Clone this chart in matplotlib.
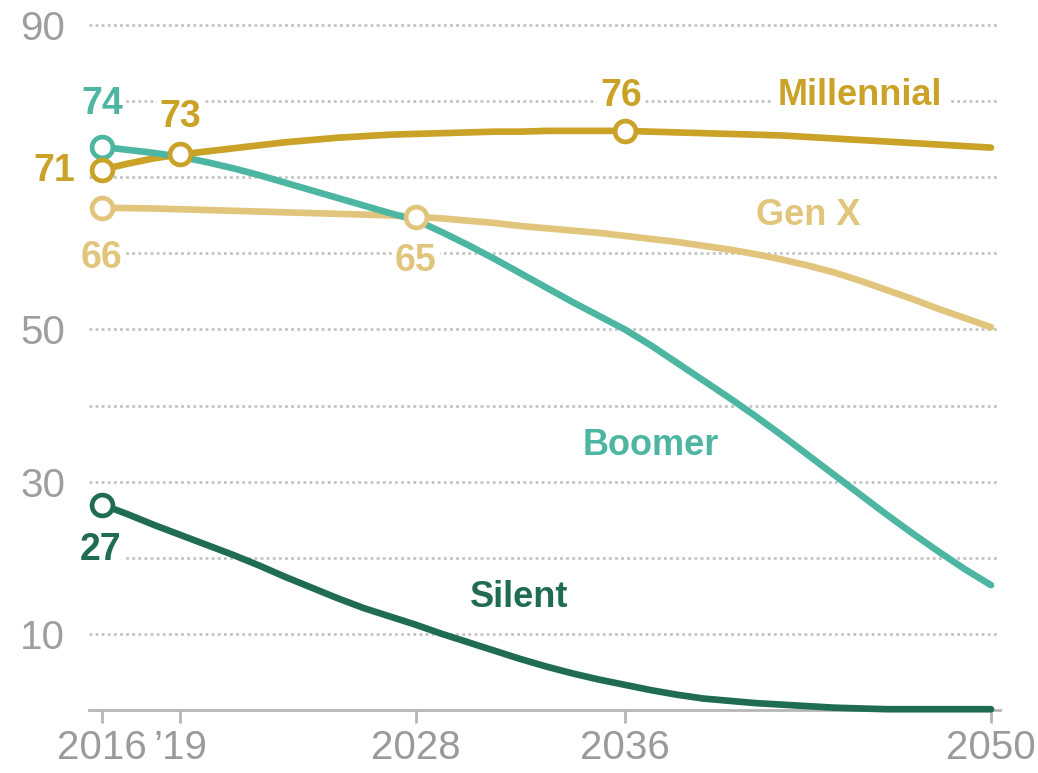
import matplotlib
matplotlib.use("Agg")
import matplotlib.pyplot as plt

# ---------------- data ----------------
years = list(range(2016, 2051))

millennial = [71.0, 71.8, 72.5, 73.0, 73.4, 73.8, 74.2, 74.6, 74.9, 75.2,
              75.4, 75.6, 75.7, 75.8, 75.9, 76.0, 76.0, 76.1, 76.1, 76.1,
              76.1, 76.0, 75.9, 75.8, 75.7, 75.6, 75.5, 75.3, 75.1, 74.9,
              74.7, 74.5, 74.3, 74.1, 73.9]

gen_x = [66.0, 65.95, 65.9, 65.8, 65.7, 65.6, 65.5, 65.4, 65.3, 65.2,
         65.1, 65.0, 64.8, 64.6, 64.3, 64.0, 63.6, 63.3, 63.0, 62.7,
         62.3, 61.9, 61.5, 61.0, 60.5, 59.9, 59.2, 58.4, 57.5, 56.4,
         55.2, 54.0, 52.7, 51.5, 50.3]

boomer = [74.0, 73.6, 73.2, 72.7, 72.0, 71.2, 70.3, 69.3, 68.3, 67.3,
          66.3, 65.3, 64.4, 62.8, 61.1, 59.3, 57.4, 55.5, 53.6, 51.8,
          50.0, 47.9, 45.6, 43.3, 41.0, 38.6, 36.1, 33.5, 30.9, 28.3,
          25.7, 23.2, 20.8, 18.5, 16.4]

silent = [27.0, 25.7, 24.3, 23.0, 21.7, 20.4, 19.0, 17.5, 16.1, 14.7,
          13.4, 12.3, 11.2, 10.0, 8.9, 7.8, 6.7, 5.7, 4.8, 4.0,
          3.3, 2.6, 2.0, 1.5, 1.2, 0.9, 0.7, 0.5, 0.3, 0.2,
          0.1, 0.1, 0.1, 0.1, 0.1]

series_names = ["Millennial", "Gen X", "Boomer", "Silent"]
x_tick_years = [2016, 2019, 2028, 2036, 2050]
x_tick_labels = ["2016", "\u201919", "2028", "2036", "2050"]
y_tick_values = [10, 30, 50, 90]
y_minor_values = [20, 40, 60, 70, 80]

# highlighted points: (series index, year)
highlights = [(2, 2016), (0, 2016), (0, 2019), (0, 2036),
              (1, 2016), (1, 2028), (3, 2016)]

# ---------------- style ----------------
colors = ["#C9A227", "#E2C57C", "#4DB6A2", "#1F6B53"]
label_offsets = {  # offsets in points for value labels
    (2, 2016): (0, 31),
    (0, 2016): (-34, -1),
    (0, 2019): (0, 27),
    (0, 2036): (-3, 25),
    (1, 2016): (0, -36),
    (1, 2028): (0, -32),
    (3, 2016): (-1, -33),
}
name_positions = [(2045.0, 80.8), (2043.0, 65.0), (2037.0, 34.8), (2031.95, 14.8)]

FONT = ["Liberation Sans", "DejaVu Sans"]
plt.rcParams["font.family"] = FONT

fig = plt.figure(figsize=(10.38, 7.73), dpi=100)
ax = fig.add_axes([0.0857, 0.0717, 0.8776, 0.9155])

data = [millennial, gen_x, boomer, silent]
for vals, c in zip(data, colors):
    ax.plot(years, vals, color=c, lw=4.8, solid_capstyle="round",
            solid_joinstyle="round", zorder=4)

for si, yr in highlights:
    v = data[si][years.index(yr)]
    ax.plot([yr], [v], marker="o", ms=15, mfc="white", mec=colors[si],
            mew=3.4, zorder=6)
    dx, dy = label_offsets[(si, yr)]
    ax.annotate(f"{round(v)}", xy=(yr, v), xytext=(dx, dy),
                textcoords="offset points", ha="center", va="center",
                fontsize=27, fontweight="bold", color=colors[si],
                annotation_clip=False, zorder=5,
                bbox=dict(boxstyle="square,pad=0.08", fc="white", ec="none"))

for name, (px, py), c in zip(series_names, name_positions, colors):
    ax.text(px, py, name, ha="center", va="center", fontsize=26,
            fontweight="bold", color=c, zorder=5,
            bbox=dict(boxstyle="square,pad=0.15", fc="white", ec="none"))

ax.set_xlim(2015.503, 2050.34)
ax.set_ylim(-1, 92)

ax.set_xticks(x_tick_years)
ax.set_xticklabels(x_tick_labels)
ax.set_yticks(y_tick_values)
ax.set_yticks(y_minor_values, minor=True)

for s in ["top", "right", "left"]:
    ax.spines[s].set_visible(False)
ax.spines["bottom"].set_position(("data", 0))
ax.spines["bottom"].set_color("#B5B5B5")
ax.spines["bottom"].set_linewidth(2.0)
ax.spines["bottom"].set_zorder(1)

ax.tick_params(axis="x", which="major", length=9, width=2.0, color="#B5B5B5",
               labelsize=29, labelcolor="#9A9A9A", pad=5)
ax.tick_params(axis="y", which="both", length=0, labelsize=29,
               labelcolor="#9E9E9E", pad=17)

ax.grid(axis="y", which="both", color="#C4C4C4", linestyle=(0, (1, 1.2)),
        linewidth=2.0, zorder=0)
ax.grid(axis="x", visible=False)
ax.set_axisbelow(True)

fig.savefig("out.png", dpi=100, facecolor="white")
